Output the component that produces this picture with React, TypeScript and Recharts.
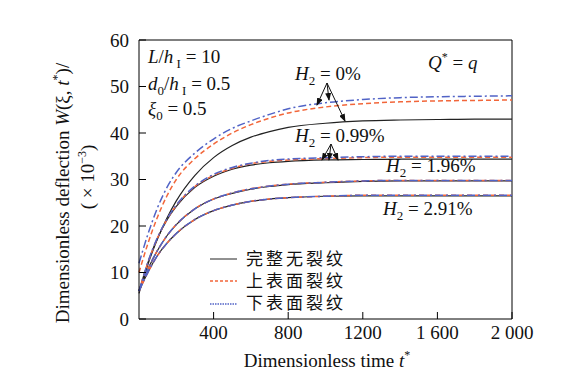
import React from 'react'
import { LineChart, Line, XAxis, YAxis, ReferenceLine } from 'recharts'

// dimensionless time t*
const tValues = [0, 50, 100, 150, 200, 300, 400, 500, 600, 700, 800, 1000, 1200, 1400, 1600, 1800, 2000]

// H2 = 0%
const intact0 = [5.5, 12.0, 17.3, 21.7, 25.4, 30.9, 34.7, 37.3, 39.1, 40.3, 41.2, 42.1, 42.6, 42.8, 42.9, 43.0, 43.0]
const upper0 = [10.0, 16.5, 22.0, 26.5, 30.0, 34.5, 37.6, 40.0, 41.8, 43.2, 44.3, 45.6, 46.3, 46.7, 46.9, 47.0, 47.1]
const lower0 = [12.0, 18.5, 24.0, 28.3, 31.5, 35.7, 38.7, 41.0, 42.6, 44.0, 45.2, 46.5, 47.2, 47.6, 47.8, 47.9, 48.0]

// H2 = 0.99%
const intact099 = [6.0, 12.4, 17.4, 21.3, 24.2, 28.3, 30.7, 32.2, 33.1, 33.6, 33.9, 34.2, 34.3, 34.4, 34.4, 34.4, 34.4]
const upper099 = [6.0, 12.4, 17.5, 21.4, 24.4, 28.5, 30.9, 32.4, 33.4, 33.9, 34.2, 34.5, 34.7, 34.8, 34.8, 34.8, 34.8]
const lower099 = [6.0, 12.5, 17.6, 21.5, 24.5, 28.6, 31.1, 32.6, 33.5, 34.1, 34.4, 34.7, 34.9, 35.0, 35.0, 35.0, 35.0]

// H2 = 1.96%
const intact196 = [6.0, 10.9, 14.8, 17.9, 20.3, 23.7, 25.8, 27.0, 27.9, 28.5, 28.9, 29.3, 29.6, 29.7, 29.7, 29.7, 29.7]
const upper196 = [6.0, 10.9, 14.8, 17.9, 20.3, 23.7, 25.8, 27.1, 28.0, 28.6, 29.0, 29.4, 29.7, 29.8, 29.8, 29.8, 29.8]
const lower196 = [6.0, 10.9, 14.8, 17.9, 20.3, 23.7, 25.8, 27.1, 28.0, 28.6, 29.0, 29.4, 29.7, 29.8, 29.8, 29.8, 29.8]

// H2 = 2.91%
const intact291 = [6.0, 10.2, 13.7, 16.3, 18.4, 21.4, 23.3, 24.5, 25.3, 25.8, 26.1, 26.4, 26.5, 26.5, 26.5, 26.5, 26.5]
const upper291 = [6.0, 10.2, 13.7, 16.3, 18.4, 21.4, 23.3, 24.5, 25.3, 25.8, 26.1, 26.4, 26.6, 26.6, 26.6, 26.6, 26.6]
const lower291 = [6.0, 10.2, 13.7, 16.3, 18.4, 21.4, 23.3, 24.5, 25.3, 25.8, 26.1, 26.4, 26.6, 26.6, 26.6, 26.6, 26.6]

const xTicks = [0, 400, 800, 1200, 1600, 2000]
const yTicks = [0, 10, 20, 30, 40, 50, 60]
const legendLabels = ['完整无裂纹', '上表面裂纹', '下表面裂纹']

const data = tValues.map((t, i) => ({
  t,
  i0: intact0[i], u0: upper0[i], l0: lower0[i],
  i1: intact099[i], u1: upper099[i], l1: lower099[i],
  i2: intact196[i], u2: upper196[i], l2: lower196[i],
  i3: intact291[i], u3: upper291[i], l3: lower291[i],
}))

const SERIF = '"Liberation Serif", "Times New Roman", serif'
const BLACK = '#222'
const ORANGE = '#f2663a'
const BLUE = '#5163c6'
const fmtX = (v: number) => (v === 0 ? '' : v >= 1600 ? `${Math.floor(v / 1000)} ${String(v % 1000).padStart(3, '0')}` : String(v))

function XTick({ x, y, payload }: any) {
  return (
    <g>
      {payload.value !== 0 && <line x1={x} x2={x} y1={y} y2={y - 7} stroke="#000" />}
      <text x={x} y={y + 20} textAnchor="middle" fontFamily={SERIF} fontSize={19} fill="#111">
        {fmtX(payload.value)}
      </text>
    </g>
  )
}

function YTick({ x, y, payload }: any) {
  return (
    <g>
      <line x1={x} x2={x + 7} y1={y} y2={y} stroke="#000" />
      <text x={x - 10} y={y} dy="0.35em" textAnchor="end" fontFamily={SERIF} fontSize={19} fill="#111">
        {payload.value}
      </text>
    </g>
  )
}

const groups = ['0', '1', '2', '3']

function H2({ x, y, v }: { x: number; y: number; v: string }) {
  return (
    <text x={x} y={y} fontFamily={SERIF} fontSize={19} fill="#111">
      <tspan fontStyle="italic">H</tspan>
      <tspan fontSize={13} dy={5}>2</tspan>
      <tspan dy={-5}>{` = ${v}`}</tspan>
    </text>
  )
}

function Overlay() {
  return (
    <svg width={584} height={375} style={{ position: 'absolute', left: 0, top: 0, pointerEvents: 'none' }}>
      <defs>
        <marker id="arr" markerWidth="8" markerHeight="6" refX="7" refY="3" orient="auto" markerUnits="userSpaceOnUse">
          <path d="M0,0 L8,3 L0,6 z" fill="#111" />
        </marker>
      </defs>
      {/* parameters */}
      <text x={148} y={63} fontFamily={SERIF} fontSize={19} fill="#111">
        <tspan fontStyle="italic">L</tspan>/<tspan fontStyle="italic">h</tspan>
        <tspan fontSize={13} dy={5}> I</tspan>
        <tspan dy={-5}> = 10</tspan>
      </text>
      <text x={148} y={90} fontFamily={SERIF} fontSize={19} fill="#111">
        <tspan fontStyle="italic">d</tspan>
        <tspan fontSize={13} dy={5}>0</tspan>
        <tspan dy={-5}>/</tspan>
        <tspan fontStyle="italic">h</tspan>
        <tspan fontSize={13} dy={5}> I</tspan>
        <tspan dy={-5}> = 0.5</tspan>
      </text>
      <text x={148} y={115} fontFamily={SERIF} fontSize={19} fill="#111">
        <tspan fontStyle="italic">ξ</tspan>
        <tspan fontSize={13} dy={5}>0</tspan>
        <tspan dy={-5}> = 0.5</tspan>
      </text>
      <text x={428} y={69} fontFamily={SERIF} fontSize={19} fill="#111">
        <tspan fontStyle="italic">Q</tspan>
        <tspan fontSize={12} dy={-8}>*</tspan>
        <tspan dy={8}> = </tspan>
        <tspan fontStyle="italic">q</tspan>
      </text>
      {/* H2 labels */}
      <H2 x={295} y={80} v="0%" />
      <H2 x={295} y={142} v="0.99%" />
      <H2 x={386} y={172} v="1.96%" />
      <H2 x={383} y={215} v="2.91%" />
      {/* arrows */}
      <g stroke="#111" strokeWidth={1}>
        <line x1={327} y1={83} x2={317} y2={105} markerEnd="url(#arr)" />
        <line x1={327} y1={83} x2={329} y2={100} markerEnd="url(#arr)" />
        <line x1={327} y1={83} x2={345} y2={121} markerEnd="url(#arr)" />
        <line x1={331} y1={144} x2={322} y2={160} markerEnd="url(#arr)" />
        <line x1={331} y1={144} x2={329} y2={160} markerEnd="url(#arr)" />
        <line x1={331} y1={144} x2={338} y2={160} markerEnd="url(#arr)" />
      </g>
      {/* legend */}
      <line x1={210} x2={237} y1={259} y2={259} stroke={BLACK} strokeWidth={1} />
      <line x1={210} x2={237} y1={281} y2={281} stroke={ORANGE} strokeWidth={1.5} strokeDasharray="3 2" />
      <line x1={210} x2={237} y1={304} y2={304} stroke={BLUE} strokeWidth={1.5} strokeDasharray="1.5 1" />
      {legendLabels.map((s, i) => (
        <text key={s} x={246} y={265 + i * 22} fontFamily='"Noto Sans CJK SC", sans-serif' fontSize={17} letterSpacing={3} fill="#111">
          {s}
        </text>
      ))}
      {/* axis titles */}
      <text x={327} y={367} textAnchor="middle" fontFamily={SERIF} fontSize={19} fill="#111">
        Dimensionless time <tspan fontStyle="italic">t</tspan>
        <tspan fontSize={12} dy={-8}>*</tspan>
      </text>
      <text transform="translate(69,193) rotate(-90)" textAnchor="middle" fontFamily={SERIF} fontSize={19} fill="#111">
        Dimensionless deflection <tspan fontStyle="italic">W</tspan>(ξ, <tspan fontStyle="italic">t</tspan>
        <tspan fontSize={12} dy={-8}>*</tspan>
        <tspan dy={8}>)/</tspan>
      </text>
      <text transform="translate(94,177) rotate(-90)" textAnchor="middle" fontFamily={SERIF} fontSize={19} fill="#111">
        ( × 10<tspan fontSize={12} dy={-8}>−3</tspan>
        <tspan dy={8}>)</tspan>
      </text>
    </svg>
  )
}

export default function App() {
  return (
    <div style={{ position: 'absolute', left: 0, top: 0, width: 584, height: 375, background: '#fff' }}>
      <LineChart width={584} height={375} data={data} margin={{ top: 40, right: 72, bottom: 26, left: 79 }}>
        <XAxis
          dataKey="t"
          type="number"
          domain={[0, 2000]}
          ticks={xTicks}
          height={30}
          tickSize={0}
          tickMargin={0}
          tick={<XTick />}
          axisLine={{ stroke: '#000' }}
          interval={0}
        />
        <YAxis
          type="number"
          domain={[0, 60]}
          ticks={yTicks}
          width={60}
          tickSize={0}
          tickMargin={0}
          tick={<YTick />}
          axisLine={{ stroke: '#000' }}
          interval={0}
        />
        <ReferenceLine y={60} stroke="#000" />
        <ReferenceLine x={2000} stroke="#000" />
        {groups.map((g) => (
          <Line key={'i' + g} dataKey={'i' + g} type="monotone" stroke={BLACK} strokeWidth={1.2} dot={false} activeDot={false} isAnimationActive={false} />
        ))}
        {groups.map((g) => (
          <Line key={'u' + g} dataKey={'u' + g} type="monotone" stroke={ORANGE} strokeWidth={1.5} strokeDasharray="5 3" dot={false} activeDot={false} isAnimationActive={false} />
        ))}
        {groups.map((g) => (
          <Line key={'l' + g} dataKey={'l' + g} type="monotone" stroke={BLUE} strokeWidth={1.5} strokeDasharray="8 3 2 3" dot={false} activeDot={false} isAnimationActive={false} />
        ))}
      </LineChart>
      <Overlay />
    </div>
  )
}
